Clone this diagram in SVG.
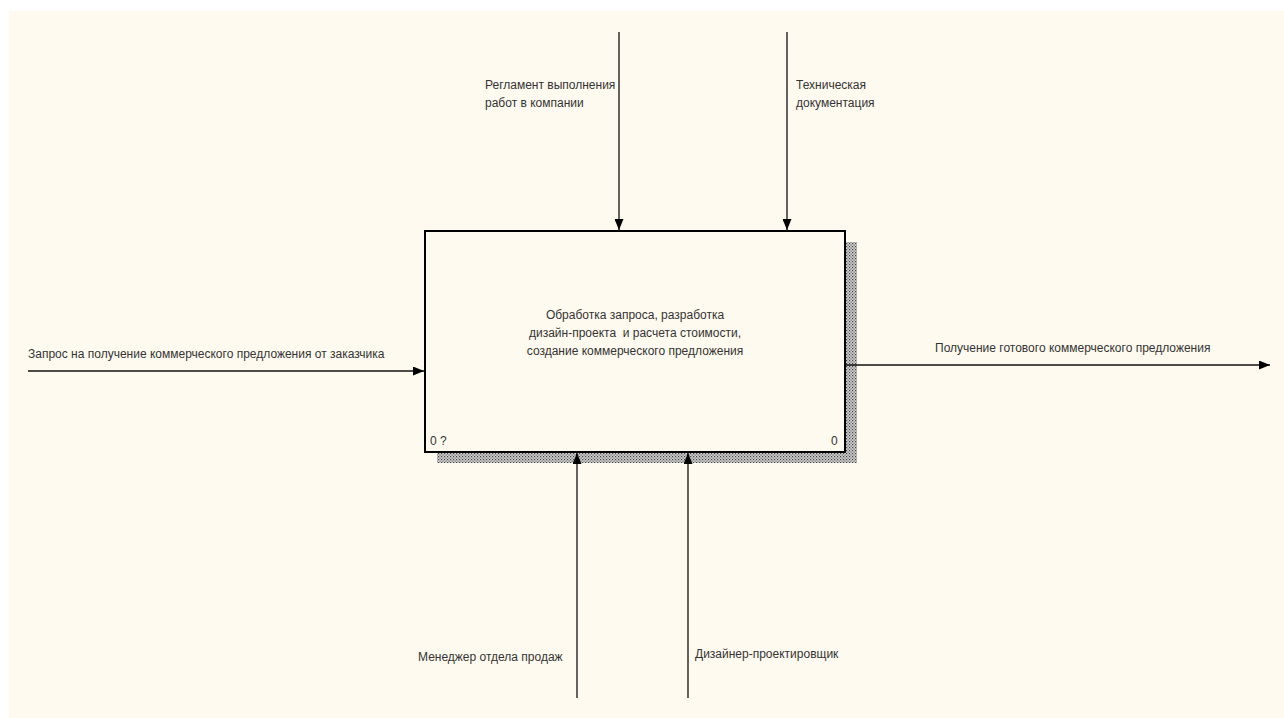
<svg xmlns="http://www.w3.org/2000/svg" width="1284" height="718" viewBox="0 0 1284 718">
<style>
text{font-family:"Liberation Sans",Arial,sans-serif;font-size:12px;fill:#333}
.c{stroke:#111;stroke-width:1.3;fill:none}
</style>
<defs>
<pattern id="hatch" width="3" height="3" patternUnits="userSpaceOnUse">
<rect width="3" height="3" fill="#cfcfcf"/>
<rect width="1.2" height="1.2" fill="#444"/>
<rect x="1.5" y="1.5" width="1.2" height="1.2" fill="#666"/>
</pattern>
<marker id="ah" viewBox="0 0 11 9" refX="11" refY="4.5" markerWidth="11" markerHeight="9" markerUnits="userSpaceOnUse" orient="auto">
<path d="M0,0 L11,4.5 L0,9 Z" fill="#000"/>
</marker>
</defs>
<rect width="1284" height="718" fill="#fff"/>
<rect x="9" y="11" width="1275" height="707" fill="#fffaef"/>
<g id="node-main">
<rect x="846" y="242" width="11" height="221" fill="url(#hatch)"/>
<rect x="437" y="453" width="420" height="10" fill="url(#hatch)"/>
<rect x="425" y="231" width="420" height="221" fill="#fffaef" stroke="#000" stroke-width="2"/>
<text x="635" y="319" text-anchor="middle">Обработка запроса, разработка</text>
<text x="635" y="337" text-anchor="middle" xml:space="preserve">дизайн-проекта  и расчета стоимости,</text>
<text x="635" y="355" text-anchor="middle">создание коммерческого предложения</text>
<text x="430" y="445">0 ?</text>
<text x="831" y="445">0</text>
</g>
<g id="connectors">
<line class="c" x1="619" y1="32" x2="619" y2="230" marker-end="url(#ah)"/>
<line class="c" x1="787" y1="32" x2="787" y2="230" marker-end="url(#ah)"/>
<line class="c" x1="28" y1="371" x2="424" y2="371" marker-end="url(#ah)"/>
<line class="c" x1="846" y1="365" x2="1270" y2="365" marker-end="url(#ah)"/>
<line class="c" x1="577" y1="698" x2="577" y2="453" marker-end="url(#ah)"/>
<line class="c" x1="688" y1="698" x2="688" y2="453" marker-end="url(#ah)"/>
</g>
<g id="labels">
<text x="485" y="89">Регламент выполнения</text>
<text x="485" y="107">работ в компании</text>
<text x="796" y="89">Техническая</text>
<text x="796" y="107">документация</text>
<text x="28" y="358">Запрос на получение коммерческого предложения от заказчика</text>
<text x="935" y="352">Получение готового коммерческого предложения</text>
<text x="418" y="661">Менеджер отдела продаж</text>
<text x="695" y="658">Дизайнер-проектировщик</text>
</g>
</svg>
